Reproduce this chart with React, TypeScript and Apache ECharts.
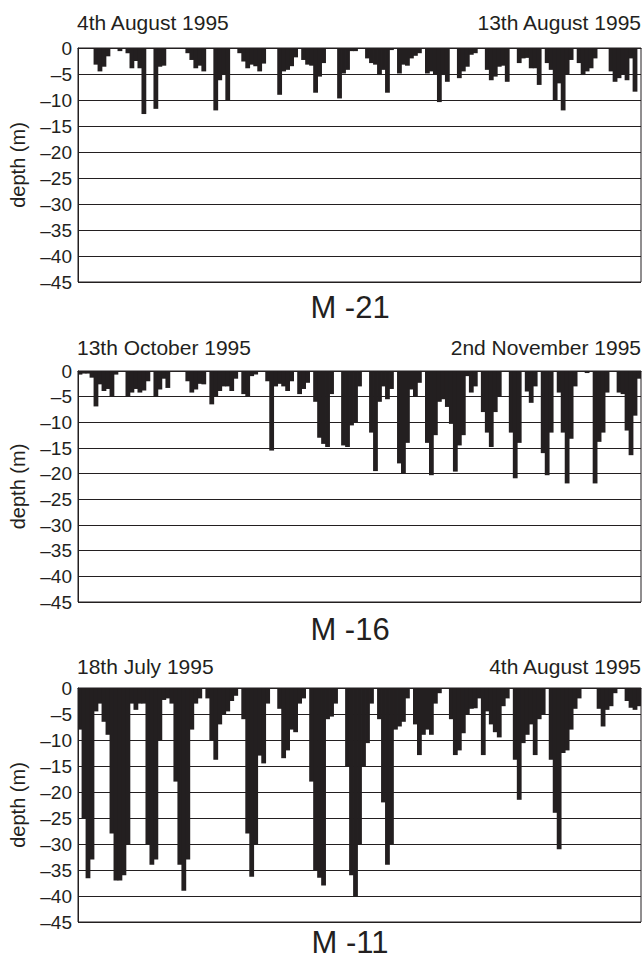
import React, { useEffect, useRef } from "react";
import * as echarts from "echarts";

// Dive depth profiles (m), one value per time slot
const m21Depth = [
  0, 0, 0, 0, -3.2, -4.5, -3.6, -1.6, 0, 0,
  -0.6, 0, -1, -3.9, -2.5, -3.9, -12.7, 0, 0, -11.7,
  -3.6, -3.4, 0, 0, 0, 0, 0, -1, -2.3, -3.9,
  -3.4, -4.5, 0, 0, -12, -6.2, -5.2, -10, 0, 0,
  -1, -2.6, -3.9, -3.2, -3.5, -4.5, -3, 0, 0, 0,
  -9, -4.5, -4.2, -3.5, -1.8, 0, -2.3, -3.2, -3.4, -8.6,
  -5.5, -2.9, 0, 0, 0, -9.7, -4.9, -4.2, -0.6, -0.6,
  0, 0, -2, -2.9, -3.2, -5.2, -4.2, -8.6, -0.4, 0,
  -4.9, -3.2, -3.4, -2, -1.5, -1, 0, -4.9, -4.5, -5,
  -10.4, -5.2, -6.5, 0, 0, -5.8, -4.5, -3.6, -1.3, -1,
  0, 0, -4.2, -6.2, -5.5, -3.6, -3.4, -6.5, 0, 0,
  -2.9, -2, -1.9, -3.9, -3.9, -7.1, 0, -2.9, -4.2, -10,
  -6.8, -12, -5, -2.3, 0, -2.9, -5.2, -4.5, -3.9, -2,
  0, 0, 0, -4.5, -6.5, -5.8, -5, -6.2, -2, -8.4, 0,
];

const m16Depth = [
  -0.7, -0.5, -0.5, -1.3, -6.9, -2.6, -3.9, -3.5, -4.9, -0.7,
  0, 0, -5, -4.2, -3.5, -4.2, -3.8, -2, 0, -5,
  -3.6, -1.5, -3.3, 0, 0, 0, 0, -2, -4.2, -3.6,
  -2.5, -2.6, 0, -6.5, -4.9, -3.9, -3, -3, -3.9, -1.5,
  0, -4.5, -4.9, -1, -0.7, 0, 0, -2, -15.5, -3,
  -2.5, -3, -3.9, -2, 0, -4.5, -3.5, -2.3, 0, -6,
  -13, -14.2, -14.8, -4.5, 0, 0, -14.5, -14.8, -10.6, -10,
  -3, 0, 0, -12, -19.5, -6, -3, -5.5, -3.5, 0,
  -18, -20, -14, -3.6, -4.9, -2.3, 0, -14, -20.3, -12.5,
  -6, -5.5, -7, -10.3, -19.6, -14.5, -12.5, -1, -4.2, -3,
  0, -8, -12, -14.8, -8, -4.9, 0, 0, -12, -20.9,
  -14, 0, -4, -6.2, -3, 0, -16, -20.3, -12, 0,
  -4.2, -12, -21.9, -13.2, -3, 0, 0, -0.4, 0, -21.9,
  -13.8, -12, -4.2, 0, 0, -4.2, -4.5, -11.6, -16.4, -8.7, -1.5,
];

const m11Depth = [
  -8, -25, -36.6, -33, -4.5, -3, -6.5, -9, -28, -37,
  -37, -36, -30, -3, -4.2, -3, -3, -30, -34, -33,
  -10, -2.3, -2, -3, -18, -34, -39, -33, -8, -3,
  -2, 0, -2, -10, -13.8, -7, -5, -4.5, -2.5, -1.5,
  0, -6, -28, -36.3, -30, -13, -14.5, -3, 0, 0,
  -4, -13.5, -12, -8, -8.5, -3, -2, 0, -18, -35,
  -36.5, -38, -6, -5.5, -3, 0, 0, -15, -36, -40.2,
  -30, -15, -10.6, -3, 0, -6, -22, -34, -30, -8,
  -7.4, -6.5, -2, 0, -7, -12.9, -9, -8, -9, -3,
  -1, 0, 0, -6, -12.9, -12, -8.7, -5, -4, -3.9,
  -2, -12.9, -4.5, -7, -8.5, -9.5, -3.5, -2, 0, -13.8,
  -21.5, -10.6, -9, -7, -12.9, -6, -5, 0, -13.8, -24,
  -31, -12.5, -12, -8, -4, -2, 0, 0, 0, 0,
  -4, -7.4, -4.2, -3.5, -1, 0, 0, -2.5, -3.8, -4.2, -3.5,
];

const panelNames = ["M -21", "M -16", "M -11"];
const startDates = ["4th August 1995", "13th October 1995", "18th July 1995"];
const endDates = ["13th August 1995", "2nd November 1995", "4th August 1995"];
const depthMin = -45;
const depthMax = 0;
const depthStep = 5;

const INK = "#231f20";
const FONT = "'Liberation Sans', Arial, Helvetica, sans-serif";

export default function App() {
  const ref = useRef<HTMLDivElement>(null);

  useEffect(() => {
    if (!ref.current) return;
    const chart = echarts.init(ref.current, undefined, { renderer: "svg" });

    const series = [m21Depth, m16Depth, m11Depth];
    const grids = [
      { top: 48, height: 234 },
      { top: 371, height: 231 },
      { top: 688, height: 234 },
    ];
    const dateY = [22, 347, 666];
    const titleY = [307, 629, 942];

    const option: any = {
      animation: false,
      backgroundColor: "#ffffff",
      grid: grids.map((g) => ({
        left: 77,
        width: 564,
        top: g.top,
        height: g.height,
        show: true,
        borderColor: INK,
        borderWidth: 1,
        backgroundColor: "transparent",
      })),
      xAxis: series.map((d, i) => ({
        type: "category",
        gridIndex: i,
        data: d.map((_, k) => String(k)),
        boundaryGap: true,
        axisLabel: { show: false },
        axisTick: { show: false },
        axisLine: { show: true, lineStyle: { color: INK, width: 1 } },
        splitLine: { show: false },
      })),
      yAxis: series.map((_, i) => ({
        type: "value",
        gridIndex: i,
        min: depthMin,
        max: depthMax,
        interval: depthStep,
        name: "depth (m)",
        nameLocation: "middle",
        nameRotate: 90,
        nameGap: 50,
        nameTextStyle: { fontSize: 20, color: INK, fontFamily: FONT },
        axisLine: { show: true, lineStyle: { color: INK, width: 1 } },
        axisTick: { show: false },
        axisLabel: {
          fontSize: 19,
          color: INK,
          fontFamily: FONT,
          margin: 6,
          formatter: (v: number) => (v === 0 ? "0" : "\u2013" + Math.abs(v)),
        },
        splitLine: { show: true, lineStyle: { color: INK, width: 1 } },
      })),
      series: series.map((d, i) => ({
        type: "bar",
        xAxisIndex: i,
        yAxisIndex: i,
        data: d,
        barWidth: 4.8,
        barGap: "-100%",
        itemStyle: { color: INK, borderWidth: 0 },
        silent: true,
      })),
      graphic: [
        ...startDates.map((t, i) => ({
          type: "text",
          x: 77,
          y: dateY[i],
          style: { text: t, fontSize: 21, fontFamily: FONT, fill: INK, align: "left", verticalAlign: "middle" },
        })),
        ...endDates.map((t, i) => ({
          type: "text",
          x: 641,
          y: dateY[i],
          style: { text: t, fontSize: 21, fontFamily: FONT, fill: INK, align: "right", verticalAlign: "middle" },
        })),
        ...panelNames.map((t, i) => ({
          type: "text",
          x: 350,
          y: titleY[i],
          style: { text: t, fontSize: 31, fontFamily: FONT, fill: INK, align: "center", verticalAlign: "middle" },
        })),
      ],
    };

    chart.setOption(option);
    return () => chart.dispose();
  }, []);

  return (
    <div
      ref={ref}
      style={{ position: "absolute", left: 0, top: 0, width: 643, height: 961, background: "#fff" }}
    />
  );
}
